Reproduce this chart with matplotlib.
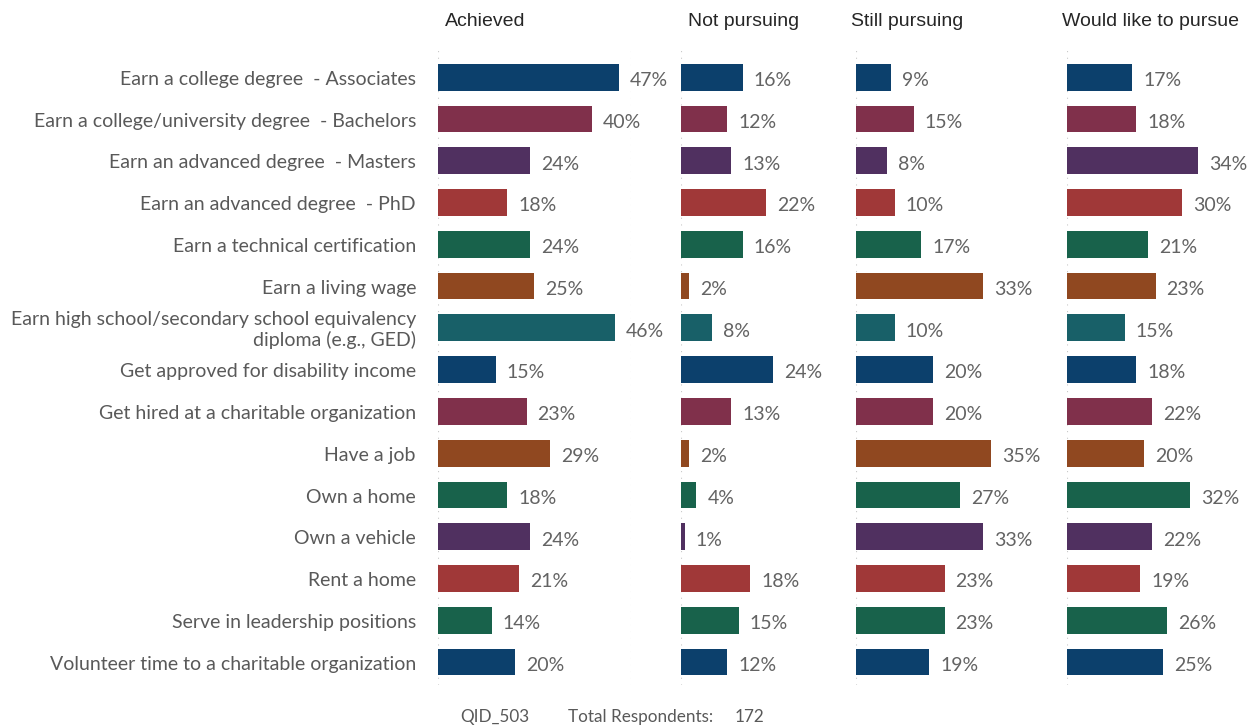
import numpy as np
import matplotlib.pyplot as plt

categories = [
    "Earn a college degree  - Associates",
    "Earn a college/university degree  - Bachelors",
    "Earn an advanced degree  - Masters",
    "Earn an advanced degree  - PhD",
    "Earn a technical certification",
    "Earn a living wage",
    "Earn high school/secondary school equivalency\ndiploma (e.g., GED)",
    "Get approved for disability income",
    "Get hired at a charitable organization",
    "Have a job",
    "Own a home",
    "Own a vehicle",
    "Rent a home",
    "Serve in leadership positions",
    "Volunteer time to a charitable organization",
]
panels = ["Achieved", "Not pursuing", "Still pursuing", "Would like to pursue"]
achieved = [47, 40, 24, 18, 24, 25, 46, 15, 23, 29, 18, 24, 21, 14, 20]
not_pursuing = [16, 12, 13, 22, 16, 2, 8, 24, 13, 2, 4, 1, 18, 15, 12]
still_pursuing = [9, 15, 8, 10, 17, 33, 10, 20, 20, 35, 27, 33, 23, 23, 19]
would_like = [17, 18, 34, 30, 21, 23, 15, 18, 22, 20, 32, 22, 19, 26, 25]

navy, maroon, purple, red = "#0C406C", "#80304B", "#503060", "#A03838"
green, orange, teal = "#18624B", "#904820", "#186068"
row_colors = [navy, maroon, purple, red, green, orange, teal, navy,
              maroon, orange, green, purple, red, green, navy]

W, H = 1257, 728
fig = plt.figure(figsize=(W / 100, H / 100), dpi=100)

lefts = [438, 681, 856, 1067]
scale = 3.85  # px per percent
top, bottom = 48, 685
y = np.arange(len(categories))
series = [achieved, not_pursuing, still_pursuing, would_like]
title_x = [445, 688, 851, 1062]

label_font = "Lato"
for i, (vals, left) in enumerate(zip(series, lefts)):
    ax = fig.add_axes([left / W, 1 - bottom / H, 50 * scale / W, (bottom - top) / H])
    ax.patch.set_alpha(0)
    ax.axvline(0, color="#C8C8C8", lw=0.8, ls=(0, (1, 5)), zorder=0)
    if i == 0:
        ax.axvline(50, color="#C8C8C8", lw=0.8, ls=(0, (1, 5)), zorder=0)
    ax.barh(y, vals, height=0.64, color=row_colors, zorder=2)
    for yy, v in zip(y, vals):
        ax.text(v + 11 / scale, yy + 0.08, f"{v}%", va="center", ha="left",
                fontsize=14, color="#636363", family=label_font)
    ax.set_xlim(0, 50)
    ax.set_ylim(14.55, -0.7)
    ax.set_xticks([])
    ax.set_yticks([])
    for s in ax.spines.values():
        s.set_visible(False)
    if i == 0:
        for yy, c in zip(y, categories):
            ax.text(-22 / scale, yy + 0.05, c, ha="right", va="center", fontsize=14,
                    color="#595959", family=label_font, linespacing=1.15,
                    multialignment="right")
    fig.text(title_x[i] / W, 1 - 22 / H, panels[i], ha="left", va="center",
             fontsize=14, color="#262626", family="Liberation Sans")

fig.text(460 / W, 1 - 717 / H, "QID_503", ha="left", va="center",
         fontsize=12.3, color="#595959", family=label_font)
fig.text(568 / W, 1 - 717 / H, "Total Respondents:", ha="left", va="center",
         fontsize=12.3, color="#595959", family=label_font)
fig.text(735 / W, 1 - 717 / H, "172", ha="left", va="center",
         fontsize=12.3, color="#595959", family=label_font)

fig.savefig("out.png", dpi=100)
